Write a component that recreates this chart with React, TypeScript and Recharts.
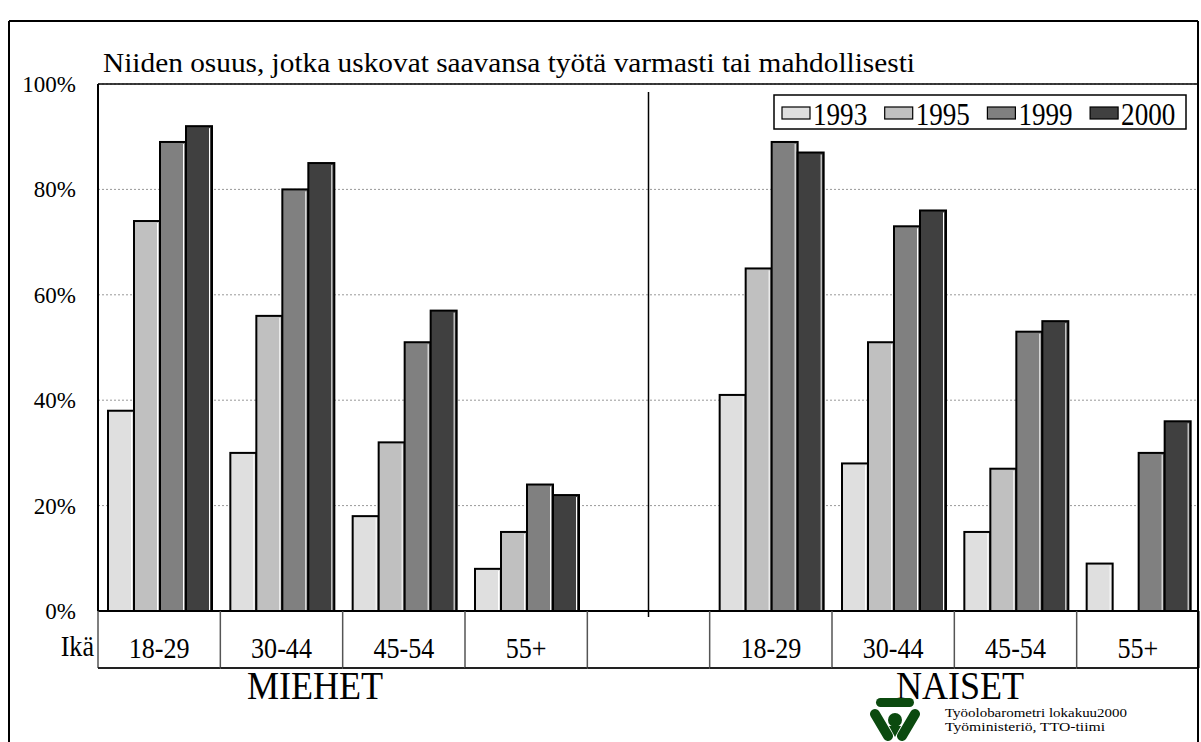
import React from "react";
import {
  BarChart,
  Bar,
  XAxis,
  YAxis,
  CartesianGrid,
  Legend,
  ReferenceLine,
} from "recharts";

const ageGroups = ["18-29", "30-44", "45-54", "55+"];
const years = ["1993", "1995", "1999", "2000"];
const yearColors = ["#dfdfdf", "#c0c0c0", "#808080", "#404040"];

const men1993 = [38, 30, 18, 8];
const men1995 = [74, 56, 32, 15];
const men1999 = [89, 80, 51, 24];
const men2000 = [92, 85, 57, 22];

const women1993 = [41, 28, 15, 9];
const women1995 = [65, 51, 27, 0];
const women1999 = [89, 73, 53, 30];
const women2000 = [87, 76, 55, 36];

const yTicks = [0, 20, 40, 60, 80, 100];

const FONT = "Liberation Serif, Times New Roman, serif";
const W = 1201;
const H = 742;

const buildRows = (prefix: string, series: number[][]) =>
  ageGroups.map((age, i) => {
    const row: Record<string, any> = { key: prefix + age, label: age };
    years.forEach((yr, j) => {
      row["y" + yr] = series[j][i];
    });
    return row;
  });

const data = [
  ...buildRows("M", [men1993, men1995, men1999, men2000]),
  { key: "gap", label: "" },
  ...buildRows("N", [women1993, women1995, women1999, women2000]),
];

// bar with black outline and a thin light edge on the right
const BarShape = (props: any) => {
  const { x, y, width, height, fill } = props;
  if (!height || height <= 0) {
    return <line x1={x} x2={x + width} y1={y} y2={y} stroke="#000" strokeWidth={2} />;
  }
  return (
    <g>
      <rect x={x} y={y} width={width} height={height} fill={fill} stroke="#000" strokeWidth={2} />
      <line
        x1={x + width - 2.5}
        x2={x + width - 2.5}
        y1={y + 2}
        y2={y + height}
        stroke="#fff"
        strokeWidth={1}
      />
    </g>
  );
};

const YTick = (props: any) => {
  const { x, y, payload } = props;
  return (
    <text
      x={x - 22}
      y={y + 8}
      textAnchor="end"
      fontSize={23}
      fill="#000"
      style={{ fontFamily: FONT }}
    >
      {payload.value}%
    </text>
  );
};

// category labels drawn as a table row under the axis
const TableTick = (props: any) => {
  const { x, y, payload } = props;
  const idx = payload.index ?? props.index ?? 0;
  const half = payload.offset > 0 ? payload.offset : 1100 / data.length / 2;
  const row = data[idx];
  const rowH = 57;
  const last = idx === data.length - 1;
  return (
    <g>
      <line x1={x - half} x2={x - half} y1={y} y2={y + rowH} stroke="#555" strokeWidth={1.5} />
      {last && (
        <line x1={x + half} x2={x + half} y1={y} y2={y + rowH} stroke="#555" strokeWidth={1.5} />
      )}
      <line x1={x - half} x2={x + half} y1={y + rowH} y2={y + rowH} stroke="#222" strokeWidth={2} />
      {row && row.key === "gap" && (
        <line x1={x} x2={x} y1={y} y2={y + 6} stroke="#000" strokeWidth={1.5} />
      )}
      {row && row.label && (
        <text
          transform={`translate(${x},${y + 47}) scale(0.9,1)`}
          textAnchor="middle"
          fontSize={29}
          fill="#000"
          style={{ fontFamily: FONT }}
        >
          {row.label}
        </text>
      )}
    </g>
  );
};

const LegendBox = () => (
  <svg width={415} height={48} style={{ display: "block", overflow: "visible" }}>
    <rect x={1} y={1} width={412} height={34} fill="#fff" stroke="#000" strokeWidth={1.5} />
    {years.map((yr, i) => {
      const x0 = 9 + i * 102.7;
      return (
        <g key={yr}>
          <rect x={x0} y={13} width={28} height={12} fill={yearColors[i]} stroke="#000" strokeWidth={1.2} />
          <text
            transform={`translate(${x0 + 31},31) scale(0.875,1)`}
            fontSize={31}
            fill="#000"
            style={{ fontFamily: FONT }}
          >
            {yr}
          </text>
        </g>
      );
    })}
  </svg>
);

const Logo = () => (
  <g fill="#0b4a0f" stroke="#0b4a0f">
    <rect x={876} y={698} width={38} height={9} rx={4.5} stroke="none" />
    <line x1={875} y1={714} x2={888} y2={736} strokeWidth={10} strokeLinecap="round" />
    <line x1={915} y1={714} x2={902} y2={736} strokeWidth={10} strokeLinecap="round" />
    <circle cx={895} cy={720} r={7} stroke="none" />
    <path d="M889 726 L901 726 L895 737 Z" stroke="none" />
  </g>
);

export default function App() {
  return (
    <div
      style={{
        position: "absolute",
        left: 0,
        top: 0,
        width: W,
        height: H,
        background: "#fff",
        fontFamily: FONT,
      }}
    >
      <BarChart
        width={W}
        height={H}
        data={data}
        margin={{ top: 84, right: 2, bottom: 0, left: 0 }}
        barCategoryGap={10}
        barGap={0}
      >
        <CartesianGrid horizontal vertical={false} stroke="#999" strokeDasharray="2 2" />
        <XAxis
          dataKey="key"
          interval={0}
          height={131}
          tickSize={0}
          tickMargin={0}
          tickLine={false}
          axisLine={{ stroke: "#000", strokeWidth: 2 }}
          tick={<TableTick />}
        />
        <YAxis
          domain={[0, 100]}
          ticks={yTicks}
          width={98}
          tickSize={0}
          tickMargin={0}
          tickLine={false}
          axisLine={{ stroke: "#000", strokeWidth: 2 }}
          tick={<YTick />}
        />
        <ReferenceLine y={100} stroke="#000" strokeWidth={1.5} />
        <ReferenceLine
          segment={[
            { x: "gap", y: 98.5 },
            { x: "gap", y: 0 },
          ]}
          stroke="#000"
          strokeWidth={1.5}
        />
        <Legend
          layout="horizontal"
          align="center"
          verticalAlign="middle"
          content={() => <LegendBox />}
          wrapperStyle={{ position: "absolute", left: 773, top: 94, width: 415, height: 48 }}
        />
        {years.map((yr, i) => (
          <Bar
            key={yr}
            dataKey={"y" + yr}
            name={yr}
            fill={yearColors[i]}
            shape={<BarShape />}
            isAnimationActive={false}
          />
        ))}
      </BarChart>

      <svg
        width={W}
        height={H}
        style={{ position: "absolute", left: 0, top: 0, pointerEvents: "none", fontFamily: FONT }}
      >
        <line x1={9} x2={1198} y1={21} y2={21} stroke="#000" strokeWidth={2} />
        <line x1={9} x2={9} y1={21} y2={H} stroke="#000" strokeWidth={2} />
        <line x1={1198} x2={1198} y1={21} y2={H} stroke="#000" strokeWidth={2} />

        <text
          x={103}
          y={72}
          fontSize={27}
          textLength={812}
          lengthAdjust="spacingAndGlyphs"
          fill="#000"
          style={{ fontFamily: FONT }}
        >
          Niiden osuus, jotka uskovat saavansa työtä varmasti tai  mahdollisesti
        </text>

        <text
          transform="translate(94,656) scale(0.9,1)"
          textAnchor="end"
          fontSize={29}
          fill="#000"
          style={{ fontFamily: FONT }}
        >
          Ikä
        </text>

        <text
          transform="translate(315,699) scale(0.88,1)"
          textAnchor="middle"
          fontSize={41}
          fill="#000"
          style={{ fontFamily: FONT }}
        >
          MIEHET
        </text>
        <text
          transform="translate(960,699) scale(0.88,1)"
          textAnchor="middle"
          fontSize={41}
          fill="#000"
          style={{ fontFamily: FONT }}
        >
          NAISET
        </text>

        <Logo />
        <text
          x={945}
          y={717}
          fontSize={12.5}
          textLength={182}
          lengthAdjust="spacingAndGlyphs"
          fill="#000"
          style={{ fontFamily: FONT }}
        >
          Työolobarometri lokakuu2000
        </text>
        <text
          x={945}
          y={731}
          fontSize={12.5}
          textLength={160}
          lengthAdjust="spacingAndGlyphs"
          fill="#000"
          style={{ fontFamily: FONT }}
        >
          Työministeriö, TTO-tiimi
        </text>
      </svg>
    </div>
  );
}
